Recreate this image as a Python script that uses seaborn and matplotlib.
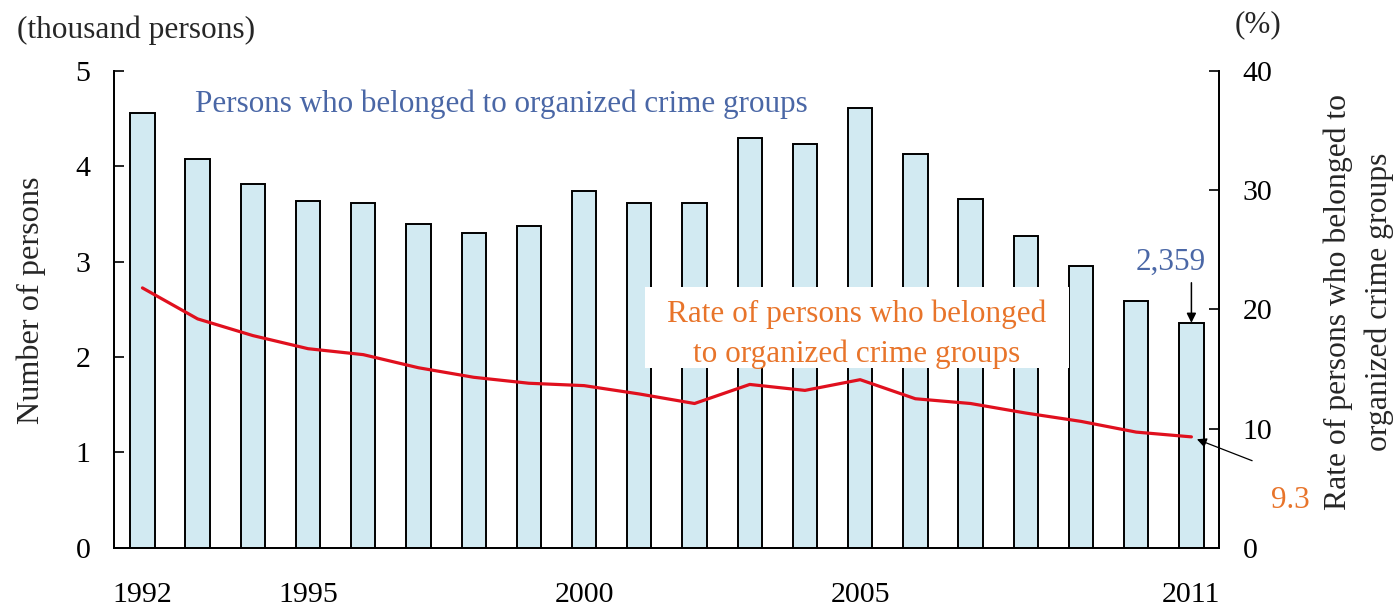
import matplotlib
matplotlib.use("Agg")
import matplotlib.pyplot as plt
from matplotlib.patches import Rectangle
import seaborn as sns
import numpy as np
import pandas as pd

# Members of organized crime groups among offenders (thousand persons) and their rate (%)
years = [1992, 1993, 1994, 1995, 1996, 1997, 1998, 1999, 2000, 2001,
         2002, 2003, 2004, 2005, 2006, 2007, 2008, 2009, 2010, 2011]
members = [4.56, 4.08, 3.81, 3.64, 3.62, 3.40, 3.30, 3.37, 3.74, 3.62,
           3.62, 4.30, 4.23, 4.61, 4.13, 3.66, 3.27, 2.96, 2.59, 2.359]
rate = [21.8, 19.2, 17.8, 16.7, 16.2, 15.1, 14.3, 13.8, 13.6, 12.9,
        12.1, 13.7, 13.2, 14.1, 12.5, 12.1, 11.3, 10.6, 9.7, 9.3]
year_ticks = [1992, 1995, 2000, 2005, 2011]
left_ticks = [0, 1, 2, 3, 4, 5]
right_ticks = [0, 10, 20, 30, 40]

bar_color = "#d2eaf2"
line_color = "#e0101e"
blue_text = "#4a67a6"
orange_text = "#e8742a"

sns.set_theme(style="white")
plt.rcParams["font.family"] = ["Liberation Serif", "DejaVu Serif"]

df = pd.DataFrame({"year": [str(y) for y in years], "members": members,
                   "pos": np.arange(len(years)), "rate": rate})

fig = plt.figure(figsize=(13.93, 6.06), dpi=100)
ax = fig.add_axes([0.0818, 0.0962, 0.7933, 0.7866])

sns.barplot(data=df, x="year", y="members", ax=ax, color=bar_color,
            saturation=1, width=0.44, edgecolor="black", linewidth=1.4)

ax.set_xlim(-0.516, 19.5)
ax.set_ylim(0, 5)
ax.set_yticks(left_ticks)
ax.set_yticklabels([str(t) for t in left_ticks])
ax.set_xticks([years.index(y) for y in year_ticks])
ax.set_xticklabels([str(y) for y in year_ticks])
ax.set_xlabel("")
ax.set_ylabel("")
ax.tick_params(axis="y", direction="in", length=7, width=1.2, pad=17,
               labelsize=21.5, colors="black", left=True)
ax.tick_params(axis="x", length=0, pad=25, labelsize=21.5, colors="black")

ax2 = ax.twinx()
sns.lineplot(data=df, x="pos", y="rate", ax=ax2, color=line_color, linewidth=2.3)
ax2.set_ylim(0, 40)
ax2.set_yticks(right_ticks)
ax2.set_yticklabels([str(t) for t in right_ticks])
ax2.set_xlabel("")
ax2.set_ylabel("")
ax2.tick_params(axis="y", direction="in", length=7, width=1.2, pad=17,
                labelsize=21.5, colors="black", right=True)
ax2.set_xlim(-0.516, 19.5)

for a in (ax, ax2):
    a.spines["top"].set_visible(False)
    for s in ("left", "right", "bottom"):
        a.spines[s].set_visible(True)
        a.spines[s].set_color("black")
        a.spines[s].set_linewidth(1.3)
    a.grid(False)

# Series labels
ax.text(6.51, 4.65, "Persons who belonged to organized crime groups",
        color=blue_text, fontsize=22.4, ha="center", va="center")
ax2.add_patch(Rectangle((9.10, 15.05), 7.68, 6.85, facecolor="white",
                        edgecolor="none", zorder=4))
ax2.text(12.94, 17.9, "Rate of persons who belonged\nto organized crime groups",
         color=orange_text, fontsize=22.5, ha="center", va="center",
         linespacing=1.45, zorder=5)

# Latest-year callouts
last = len(years) - 1
ax.annotate("", xy=(last, members[-1]), xytext=(last, members[-1] + 0.42),
            arrowprops=dict(arrowstyle="-|>", color="black", lw=1.1,
                            mutation_scale=14, shrinkA=0, shrinkB=0))
ax.text(last - 0.37, members[-1] + 0.63, f"{members[-1] * 1000:,.0f}",
        color=blue_text, fontsize=22.4, ha="center", va="center")
ax2.annotate("", xy=(last + 0.1, rate[-1] - 0.2), xytext=(last + 1.1, rate[-1] - 2.0),
             annotation_clip=False,
             arrowprops=dict(arrowstyle="-|>", color="black", lw=0.9,
                             mutation_scale=14, shrinkA=0, shrinkB=0))
ax2.text(last + 1.8, rate[-1] - 5.3, f"{rate[-1]}", color=orange_text,
         fontsize=22.4, ha="center", va="center", clip_on=False)

# Axis titles
fig.text(136 / 1393, 1 - 30 / 606, "(thousand persons)", fontsize=22.6,
         ha="center", va="center")
fig.text(1258 / 1393, 1 - 25 / 606, "(%)", fontsize=22.4, ha="center", va="center")
fig.text(31 / 1393, 1 - 300 / 606, "Number of persons", fontsize=23.2,
         rotation=90, ha="center", va="center")
fig.text(1359 / 1393, 1 - 302 / 606,
         "Rate of persons who belonged to\norganized crime groups", fontsize=22.8,
         rotation=90, ha="center", va="center", linespacing=1.5)

fig.savefig("out.png", dpi=100)
